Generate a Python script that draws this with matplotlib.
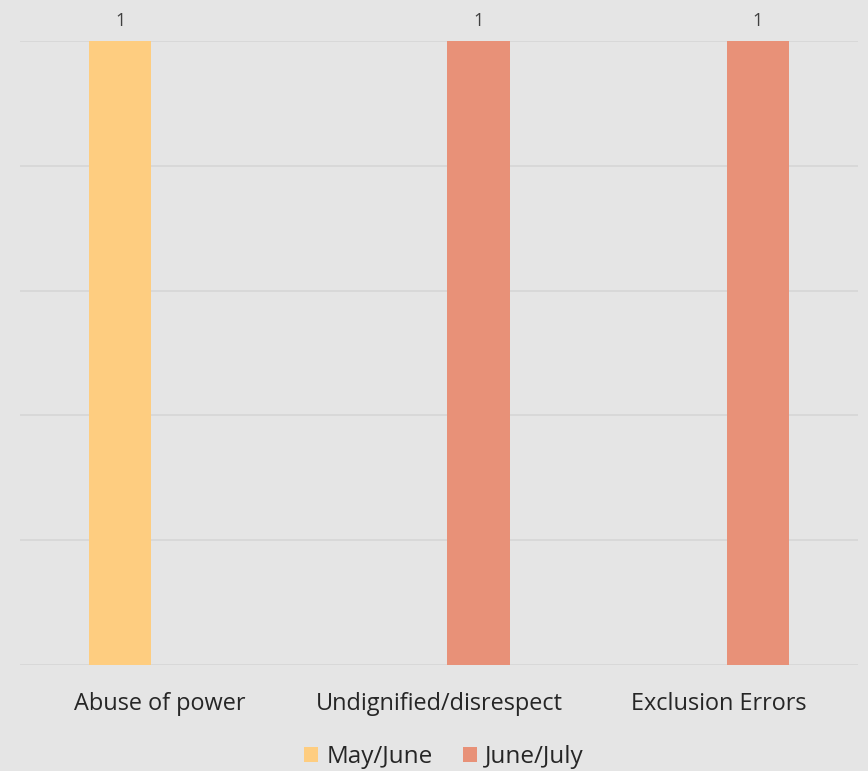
import matplotlib
matplotlib.use("Agg")
import matplotlib.pyplot as plt
import numpy as np

plt.rcParams['font.family'] = ['Open Sans', 'DejaVu Sans']

categories = ["Abuse of power", "Undignified/disrespect", "Exclusion Errors"]
series_names = ["May/June", "June/July"]
may_june = [1, 0, 0]
june_july = [0, 1, 1]
colors = ["#FECD80", "#E89178"]

bg = "#E5E5E5"
fig = plt.figure(figsize=(8.68, 7.71), dpi=100, facecolor=bg)
ax = fig.add_axes([20 / 868, 1 - 665 / 771, 838 / 868, 624 / 771])
ax.set_facecolor(bg)

x = np.arange(len(categories))
width = 0.222
offset = 0.1414
for vals, name, col, sgn in zip([may_june, june_july], series_names, colors, [-1, 1]):
    bars = ax.bar(x + sgn * offset, vals, width, color=col, label=name, zorder=3)
    for b, v in zip(bars, vals):
        if v:
            ax.annotate(f"{v}", (b.get_x() + b.get_width() / 2, v), xytext=(0, 8),
                        textcoords="offset points", ha="center", va="bottom",
                        fontsize=13, color="#404040")

ax.set_xlim(-0.5, 2.5)
ax.set_ylim(0, 1)
ax.set_yticks(np.arange(0, 1.01, 0.2))
ax.yaxis.grid(True, color="#D6D6D6", linewidth=1.2, zorder=0)
ax.tick_params(axis="y", left=False, labelleft=False)
ax.tick_params(axis="x", bottom=False, pad=16)
ax.set_xticks(x)
ax.set_xticklabels(categories, fontsize=16.9, color="#262626")
for s in ax.spines.values():
    s.set_visible(False)

leg = fig.legend(loc="center", bbox_to_anchor=(444 / 868, 1 - 757 / 771), ncol=2, frameon=False,
                 fontsize=17.5, handlelength=0.57, handleheight=0.57, handletextpad=0.35,
                 columnspacing=1.25, labelcolor="#262626")

fig.savefig("out.png", dpi=100, facecolor=bg)
